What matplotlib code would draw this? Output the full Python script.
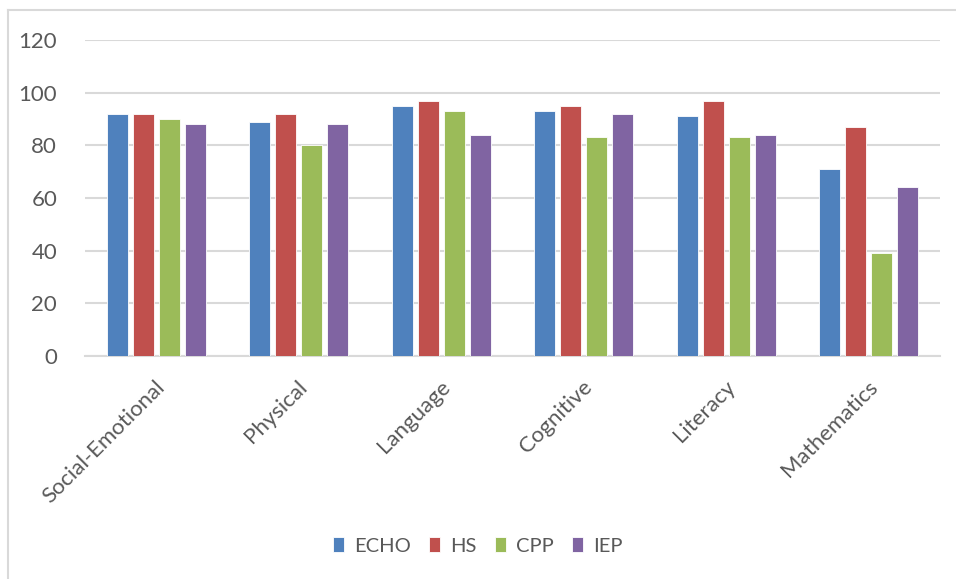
import numpy as np
import matplotlib
matplotlib.use('Agg')
import matplotlib.pyplot as plt
from matplotlib.lines import Line2D

plt.rcParams['font.family'] = ['Lato', 'DejaVu Sans']

domains = ['Social-Emotional', 'Physical', 'Language', 'Cognitive', 'Literacy', 'Mathematics']
groups = ['ECHO', 'HS', 'CPP', 'IEP']
echo = [92, 89, 95, 93, 91, 71]
hs = [92, 92, 97, 95, 97, 87]
cpp = [90, 80, 93, 83, 83, 39]
iep = [88, 88, 84, 92, 84, 64]
colors = ['#4F81BD', '#C0504D', '#9BBB59', '#8064A2']

fig = plt.figure(figsize=(9.56, 5.79), dpi=100)
ax = fig.add_axes([0.0889, 0.3851, 0.8944, 0.5458])

x = np.arange(len(domains))
step = 0.1825
width = 0.15
for k, (vals, name) in enumerate(zip([echo, hs, cpp, iep], groups)):
    ax.bar(x + (k - 1.5) * step, vals, width, color=colors[k], label=name,
           edgecolor='white', linewidth=0.6, zorder=3)

ax.set_xlim(-0.5, len(domains) - 0.5)
ax.set_ylim(0, 120)
ax.set_yticks(range(0, 121, 20))
ax.yaxis.grid(True, color='#D9D9D9', linewidth=1.5, zorder=0)
for s in ['top', 'right', 'left']:
    ax.spines[s].set_visible(False)
ax.spines['bottom'].set_color('#D9D9D9')
ax.spines['bottom'].set_linewidth(1.5)
ax.tick_params(axis='both', length=0, colors='#595959', labelsize=16)
ax.tick_params(axis='y', pad=20)

ax.set_xticks(x)
ax.set_xticklabels([])
for i, name in enumerate(domains):
    ax.text(i - 0.01, -8, name, rotation=45, rotation_mode='anchor',
            ha='right', va='top', fontsize=16, color='#595959')

leg = fig.legend(loc='center', bbox_to_anchor=(0.5, 0.057), ncol=4, frameon=False,
                 fontsize=14.5, handlelength=0.55, handleheight=0.7, handletextpad=0.5,
                 columnspacing=0.9, labelcolor='#595959')

# light outer frame
W, H = 956, 579
fig.add_artist(Line2D([8 / W, 8 / W], [0, 1 - 10 / H], color='#D9D9D9', lw=1.5))
fig.add_artist(Line2D([8 / W, 1], [1 - 10 / H, 1 - 10 / H], color='#D9D9D9', lw=1.5))

fig.savefig('out.png', dpi=100)
